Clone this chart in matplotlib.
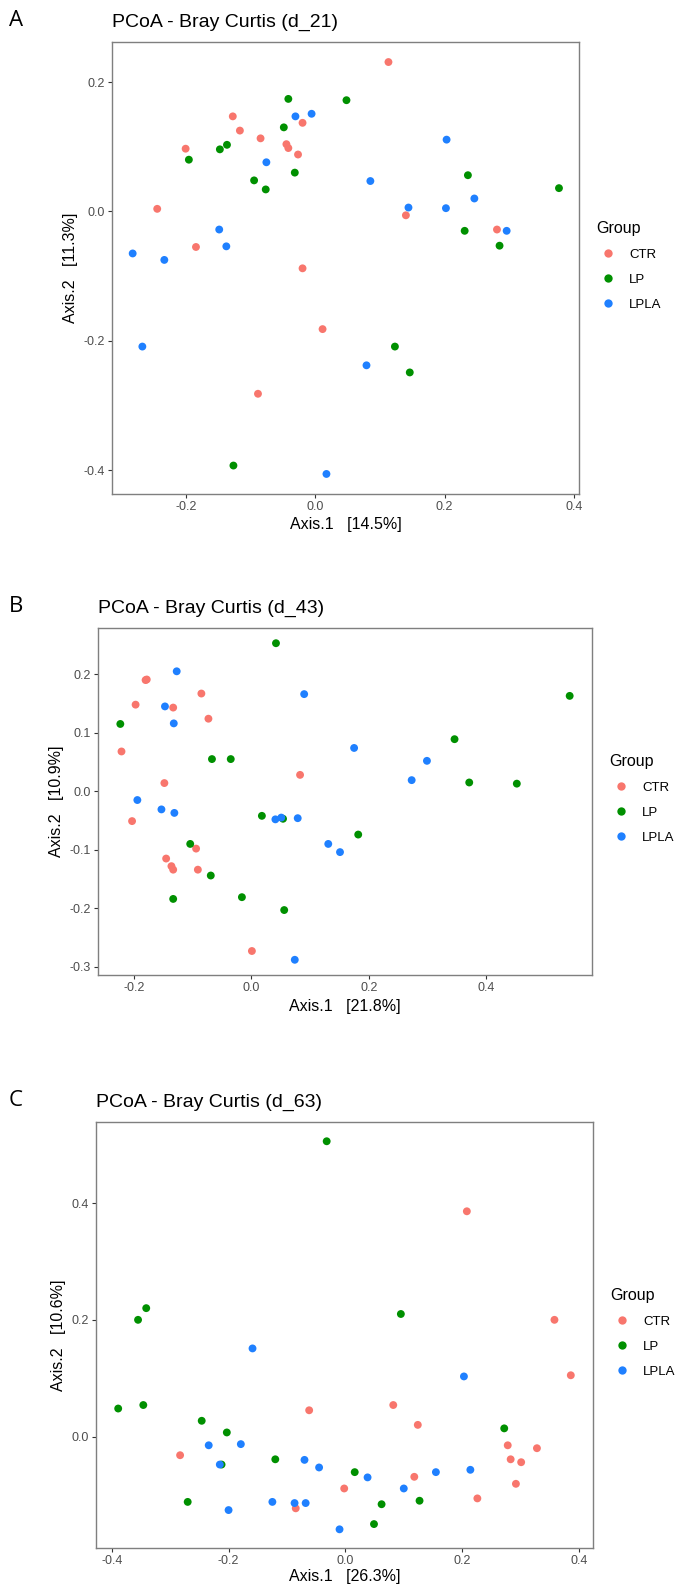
import matplotlib
matplotlib.use("Agg")
import matplotlib.pyplot as plt
from matplotlib.lines import Line2D

plt.rcParams['font.family'] = ['Liberation Sans', 'DejaVu Sans']
plt.rcParams['axes.unicode_minus'] = False

W, H = 678, 1587
groups = ["CTR", "LP", "LPLA"]
colors = {"CTR": "#F8766D", "LP": "#009000", "LPLA": "#1F80FF"}

# --- panel A (d_21)
a_ctr_x = [0.113, -0.128, -0.117, -0.085, -0.201, -0.045, -0.042, -0.020, -0.027, -0.245, -0.185, -0.020, 0.140, 0.281, 0.011, -0.089]
a_ctr_y = [0.231, 0.147, 0.125, 0.113, 0.097, 0.104, 0.098, 0.137, 0.088, 0.004, -0.055, -0.088, -0.006, -0.028, -0.182, -0.282]
a_lp_x = [-0.042, 0.048, -0.049, -0.137, -0.148, -0.196, -0.095, -0.077, -0.032, 0.236, 0.377, 0.231, 0.285, 0.123, 0.146, -0.127]
a_lp_y = [0.174, 0.172, 0.130, 0.103, 0.096, 0.080, 0.048, 0.034, 0.060, 0.056, 0.036, -0.030, -0.053, -0.209, -0.249, -0.393]
a_lpla_x = [-0.031, -0.006, -0.076, 0.203, 0.085, 0.144, 0.202, 0.246, 0.296, -0.149, -0.138, -0.283, -0.234, -0.268, 0.079, 0.017]
a_lpla_y = [0.147, 0.151, 0.076, 0.111, 0.047, 0.006, 0.005, 0.020, -0.030, -0.028, -0.054, -0.065, -0.075, -0.209, -0.238, -0.406]

# --- panel B (d_43)
b_ctr_x = [-0.180, -0.178, -0.197, -0.133, -0.085, -0.073, -0.221, -0.148, 0.083, -0.203, -0.094, -0.145, -0.136, -0.133, -0.091, 0.001]
b_ctr_y = [0.190, 0.191, 0.148, 0.143, 0.167, 0.124, 0.068, 0.014, 0.028, -0.051, -0.098, -0.115, -0.128, -0.134, -0.134, -0.273]
b_lp_x = [0.042, -0.223, 0.542, -0.067, -0.035, 0.346, 0.371, 0.452, 0.018, 0.054, 0.182, -0.104, -0.069, -0.133, -0.016, 0.056]
b_lp_y = [0.253, 0.115, 0.163, 0.055, 0.055, 0.089, 0.015, 0.013, -0.042, -0.047, -0.074, -0.090, -0.144, -0.184, -0.181, -0.203]
b_lpla_x = [-0.127, 0.090, -0.147, -0.132, 0.175, 0.299, 0.273, -0.194, -0.153, -0.131, 0.041, 0.051, 0.079, 0.131, 0.151, 0.074]
b_lpla_y = [0.205, 0.166, 0.145, 0.116, 0.074, 0.052, 0.019, -0.015, -0.031, -0.037, -0.048, -0.045, -0.046, -0.090, -0.104, -0.288]

# --- panel C (d_63)
c_ctr_x = [0.208, 0.358, 0.386, -0.062, 0.082, 0.124, -0.283, 0.278, 0.328, 0.283, 0.301, 0.118, 0.292, -0.002, 0.226, -0.085]
c_ctr_y = [0.386, 0.200, 0.105, 0.045, 0.054, 0.020, -0.032, -0.015, -0.020, -0.039, -0.044, -0.069, -0.081, -0.089, -0.106, -0.123]
c_lp_x = [-0.032, -0.341, -0.355, 0.095, -0.389, -0.346, -0.246, -0.203, 0.272, -0.212, -0.120, 0.016, -0.270, 0.062, 0.127, 0.049]
c_lp_y = [0.506, 0.220, 0.200, 0.210, 0.048, 0.054, 0.027, 0.007, 0.014, -0.048, -0.039, -0.061, -0.112, -0.116, -0.110, -0.150]
c_lpla_x = [-0.159, 0.203, -0.234, -0.179, -0.215, -0.070, -0.045, 0.038, 0.155, 0.214, 0.100, -0.125, -0.087, -0.068, -0.200, -0.010]
c_lpla_y = [0.151, 0.103, -0.015, -0.013, -0.048, -0.040, -0.053, -0.070, -0.061, -0.057, -0.089, -0.112, -0.114, -0.114, -0.126, -0.159]

panels = [
    dict(letter="A", title="PCoA - Bray Curtis (d_21)", xlab="Axis.1   [14.5%]", ylab="Axis.2   [11.3%]",
         pts={"CTR": (a_ctr_x, a_ctr_y), "LP": (a_lp_x, a_lp_y), "LPLA": (a_lpla_x, a_lpla_y)},
         box=(112, 42, 579, 494), xlim=(-0.315, 0.408), ylim=(-0.437, 0.262),
         xt=[-0.2, 0.0, 0.2, 0.4], yt=[-0.4, -0.2, 0.0, 0.2], ylab_x=70, xlab_y=524, leg_y=266, leg_x=596),
    dict(letter="B", title="PCoA - Bray Curtis (d_43)", xlab="Axis.1   [21.8%]", ylab="Axis.2   [10.9%]",
         pts={"CTR": (b_ctr_x, b_ctr_y), "LP": (b_lp_x, b_lp_y), "LPLA": (b_lpla_x, b_lpla_y)},
         box=(98, 628, 592, 975), xlim=(-0.261, 0.580), ylim=(-0.314, 0.279),
         xt=[-0.2, 0.0, 0.2, 0.4], yt=[-0.3, -0.2, -0.1, 0.0, 0.1, 0.2], ylab_x=56, xlab_y=1006, leg_y=799, leg_x=609),
    dict(letter="C", title="PCoA - Bray Curtis (d_63)", xlab="Axis.1   [26.3%]", ylab="Axis.2   [10.6%]",
         pts={"CTR": (c_ctr_x, c_ctr_y), "LP": (c_lp_x, c_lp_y), "LPLA": (c_lpla_x, c_lpla_y)},
         box=(96, 1122, 593, 1548), xlim=(-0.427, 0.424), ylim=(-0.191, 0.539),
         xt=[-0.4, -0.2, 0.0, 0.2, 0.4], yt=[0.0, 0.2, 0.4], ylab_x=58, xlab_y=1577, leg_y=1333, leg_x=610),
]

fig = plt.figure(figsize=(W / 100, H / 100), dpi=100)

for p in panels:
    x0, y0, x1, y1 = p["box"]
    ax = fig.add_axes([x0 / W, 1 - y1 / H, (x1 - x0) / W, (y1 - y0) / H])
    for g in groups:
        xs, ys = p["pts"][g]
        ax.scatter(xs, ys, s=32, color=colors[g], edgecolors="none", zorder=3)
    ax.set_xlim(*p["xlim"])
    ax.set_ylim(*p["ylim"])
    ax.set_xticks(p["xt"])
    ax.set_yticks(p["yt"])
    ax.set_xticklabels(["%.1f" % v for v in p["xt"]])
    ax.set_yticklabels(["%.1f" % v for v in p["yt"]])
    ax.tick_params(length=3, width=0.8, color="#333333", labelcolor="#4d4d4d", labelsize=9, pad=2)
    for sp in ax.spines.values():
        sp.set_color("#7f7f7f")
        sp.set_linewidth(1.0)
    ax.set_xlabel(p["xlab"], fontsize=11.5)
    ax.set_ylabel(p["ylab"], fontsize=11.5)
    bw, bh = x1 - x0, y1 - y0
    ax.xaxis.set_label_coords(0.5, -(p["xlab_y"] - y1) / bh, transform=ax.transAxes)
    ax.yaxis.set_label_coords(-(x0 - p["ylab_x"]) / bw, 0.5, transform=ax.transAxes)
    ax.xaxis.label.set_va("center")
    ax.yaxis.label.set_va("center")

    fig.text(x0 / W, 1 - (y0 - 20) / H, p["title"], fontsize=14, ha="left", va="center")
    fig.text(9 / W, 1 - (y0 - 21) / H, p["letter"], fontsize=16, ha="left", va="center",
             family=["Open Sans", "DejaVu Sans"])

    handles = [Line2D([], [], marker="o", linestyle="none", markersize=6,
                      markerfacecolor=colors[g], markeredgecolor="none") for g in groups]
    leg = fig.legend(handles, groups, title="Group", loc="center left",
                     bbox_to_anchor=(p["leg_x"] / W, 1 - p["leg_y"] / H),
                     frameon=False, fontsize=9.5, title_fontsize=11.5, labelspacing=0.95,
                     handletextpad=0.7, handlelength=1.8, borderpad=0, borderaxespad=0)
    leg._legend_box.align = "left"

fig.savefig("out.png", dpi=100)
